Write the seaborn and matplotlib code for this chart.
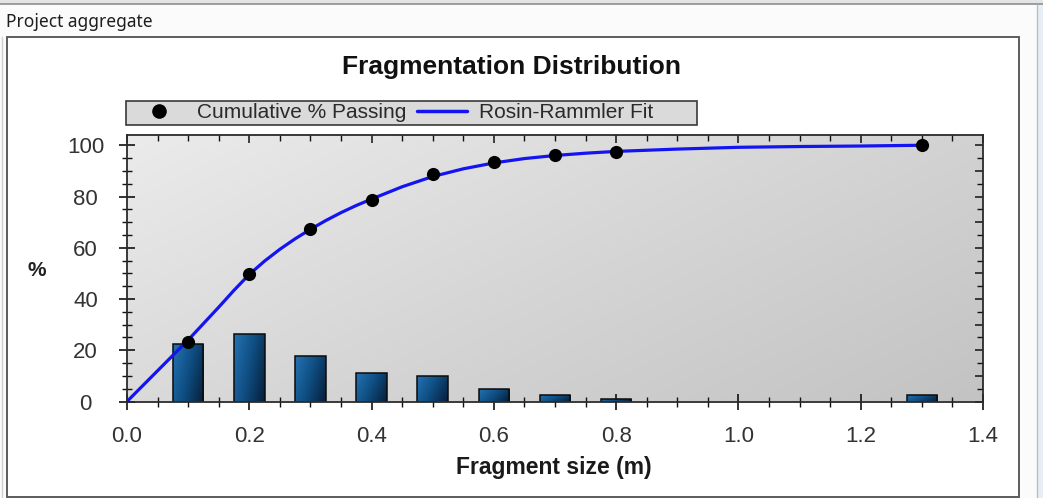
import numpy as np
import pandas as pd
import matplotlib
matplotlib.use("Agg")
import matplotlib.pyplot as plt
from matplotlib.patches import Rectangle
from matplotlib.lines import Line2D
from matplotlib.colors import LinearSegmentedColormap
from matplotlib.ticker import MultipleLocator, FormatStrFormatter
import seaborn as sns

# Sieve classes (m) with retained fraction and cumulative passing (%)
size_m = [0.1, 0.2, 0.3, 0.4, 0.5, 0.6, 0.7, 0.8, 1.3]
retained_pct = [22.5, 26.4, 17.6, 11.2, 9.9, 5.0, 2.4, 1.1, 2.4]
passing_pct = [23.4, 49.6, 67.2, 78.7, 88.7, 93.4, 96.1, 97.4, 100.0]

# Rosin-Rammler fitted curve
fit_size_m = [0.0, 0.05, 0.1, 0.15, 0.175, 0.2, 0.225, 0.25, 0.275, 0.3,
              0.325, 0.35, 0.375, 0.4, 0.45, 0.5, 0.55, 0.6, 0.65, 0.7,
              0.75, 0.8, 0.9, 1.0, 1.1, 1.2, 1.3]
fit_pct = [0.0, 12.0, 24.0, 36.8, 43.4, 49.6, 54.8, 59.4, 63.5, 67.2,
           70.6, 73.7, 76.5, 79.0, 83.8, 87.8, 90.8, 93.1, 94.8, 96.0,
           96.9, 97.6, 98.5, 99.2, 99.5, 99.7, 100.0]

series_labels = ["Cumulative % Passing", "Rosin-Rammler Fit"]

sns.set_theme(style="white")
plt.rcParams["font.family"] = ["Liberation Sans", "DejaVu Sans"]

W, H = 1043, 498
fig = plt.figure(figsize=(W / 100, H / 100), dpi=100)
fig.patch.set_facecolor("#fbfbfc")


def fx(px):
    return px / W


def fy(py):
    return 1 - py / H


def frect(x0, y0, x1, y1, **kw):
    r = Rectangle((fx(x0), fy(y1)), fx(x1) - fx(x0), fy(y0) - fy(y1),
                  transform=fig.transFigure, **kw)
    fig.add_artist(r)
    return r


# window chrome
frect(0, 0, W, 4, fc="#e4e4e4", ec="none", zorder=-10)
fig.add_artist(Line2D([0, 1], [fy(4.5)] * 2, transform=fig.transFigure,
                      color="#8e8e8e", lw=1.2, zorder=-9))
frect(1037, 5, W, H, fc="#e8eef6", ec="none", zorder=-10)
fig.add_artist(Line2D([fx(1037)] * 2, [0, fy(5)], transform=fig.transFigure,
                      color="#b9bec6", lw=1.0, zorder=-9))
fig.add_artist(Line2D([fx(2)] * 2, [0, fy(37)], transform=fig.transFigure,
                      color="#d0d0d0", lw=1.0, zorder=-9))
frect(7, 37, 1019, 496.5, fc="white", ec="#5c5c5c", lw=1.4, zorder=-8)
fig.text(fx(6), fy(22), "Project aggregate", ha="left", va="center",
         fontsize=12.5, color="#1e1e1e", family=["Noto Sans", "DejaVu Sans"])

# plotting area
ax = fig.add_axes([fx(127), fy(401.5), fx(983) - fx(127), fy(135) - fy(401.5)])
ax.set_facecolor("none")

bg_cmap = LinearSegmentedColormap.from_list("bg", ["#ebebeb", "#d6d6d6", "#c3c3c3"])
gy, gx = np.mgrid[0:1:200j, 0:1:200j]
ax.imshow(0.6 * gx + 0.4 * gy, cmap=bg_cmap, extent=[0, 1, 0, 1],
          transform=ax.transAxes, aspect="auto", origin="upper", zorder=0,
          interpolation="bilinear")

bins = pd.DataFrame({"size": size_m, "retained": retained_pct})
sns.barplot(data=bins, x="size", y="retained", native_scale=True, width=0.5,
            errorbar=None, color="#0e4f82", edgecolor="#0b0b0b", linewidth=1.1,
            ax=ax, zorder=2)
bars = list(ax.patches)

bar_cmap = LinearSegmentedColormap.from_list("bar", ["#2473b3", "#0f4e82", "#061f3a"])
bgy, bgx = np.mgrid[0:1:60j, 0:1:60j]
bar_grad = 0.7 * bgx + 0.3 * bgy
for p in bars:
    x0, w, h = p.get_x(), p.get_width(), p.get_height()
    im = ax.imshow(bar_grad, cmap=bar_cmap, extent=[x0, x0 + w, 0, h],
                   aspect="auto", origin="upper", zorder=2.1,
                   interpolation="bilinear")
    im.set_clip_path(p)
    p.set_facecolor("none")
    p.set_zorder(2.3)

sns.lineplot(x=fit_size_m, y=fit_pct, ax=ax, color="#1414f0", linewidth=2.3,
             errorbar=None, legend=False, zorder=4)
sns.scatterplot(x=size_m, y=passing_pct, ax=ax, s=90, color="black",
                linewidth=0, legend=False, zorder=5)

ax.set_xlim(0, 1.4)
ax.set_ylim(0, 104)
ax.set_xlabel("")

ax.xaxis.set_major_locator(MultipleLocator(0.2))
ax.xaxis.set_minor_locator(MultipleLocator(0.05))
ax.xaxis.set_major_formatter(FormatStrFormatter("%.1f"))
ax.yaxis.set_major_locator(MultipleLocator(20))
ax.yaxis.set_minor_locator(MultipleLocator(5))
ax.yaxis.set_major_formatter(FormatStrFormatter("%d"))

ax.tick_params(which="both", bottom=True, left=True, top=False, right=False)
ax.tick_params(which="major", direction="inout", length=11.5, width=1.2,
               color="#111111", labelsize=16, labelcolor="#333333")
ax.tick_params(which="minor", direction="inout", length=6.5, width=1.0,
               color="#111111")
ax.tick_params(axis="x", which="major", pad=12)
ax.tick_params(axis="y", which="major", pad=24)
for lab in ax.get_yticklabels():
    lab.set_horizontalalignment("center")

for side, sp in ax.spines.items():
    sp.set_color("#2a2a2a")
    sp.set_linewidth(1.3)
    sp.set_visible(True)
    sp.set_zorder(6)

top = ax.secondary_xaxis("top")
top.xaxis.set_major_locator(MultipleLocator(0.2))
top.xaxis.set_minor_locator(MultipleLocator(0.05))
top.tick_params(which="both", top=True, labeltop=False)
top.tick_params(which="major", direction="in", length=6, width=1.1,
                color="#111111")
top.tick_params(which="minor", direction="in", length=4, width=1.0,
                color="#111111")
top.spines["top"].set_visible(False)

right = ax.secondary_yaxis("right")
right.yaxis.set_major_locator(MultipleLocator(10))
right.yaxis.set_minor_locator(MultipleLocator(5))
right.tick_params(which="both", right=True, labelright=False)
right.tick_params(which="major", direction="in", length=6, width=1.1,
                  color="#111111")
right.tick_params(which="minor", direction="in", length=4, width=1.0,
                  color="#111111")
right.spines["right"].set_visible(False)

ax.set_ylabel("%", rotation=0, fontsize=15, fontweight="bold", color="#222222",
              ha="center", va="center")
ax.yaxis.set_label_coords((37 - 127) / 856, (401.5 - 270) / 266.5)

# titles
fig.text(fx(512), fy(67), "Fragmentation Distribution", ha="center", va="center",
         fontsize=19, fontweight="bold", color="#111111")
fig.text(fx(554), fy(467), "Fragment size (m)", ha="center", va="center",
         fontsize=16.5, fontweight="bold", color="#1a1a1a")

# legend strip
frect(126, 101, 697, 125, fc="#dadada", ec="#3a3a3a", lw=1.2, zorder=-7)
handles = [
    Line2D([], [], marker="o", color="black", ls="none", markersize=9.5),
    Line2D([], [], color="#1414f0", lw=2.5),
]
ax.legend(handles, series_labels, ncol=2, loc="center left",
          bbox_to_anchor=(fx(126), fy(113)), bbox_transform=fig.transFigure,
          frameon=False, fontsize=15, handlelength=2.4, handletextpad=0.6,
          columnspacing=0.5, borderpad=0.4, borderaxespad=0,
          labelcolor="#2a2a2a")

fig.savefig("out.png", dpi=100, facecolor=fig.get_facecolor())
